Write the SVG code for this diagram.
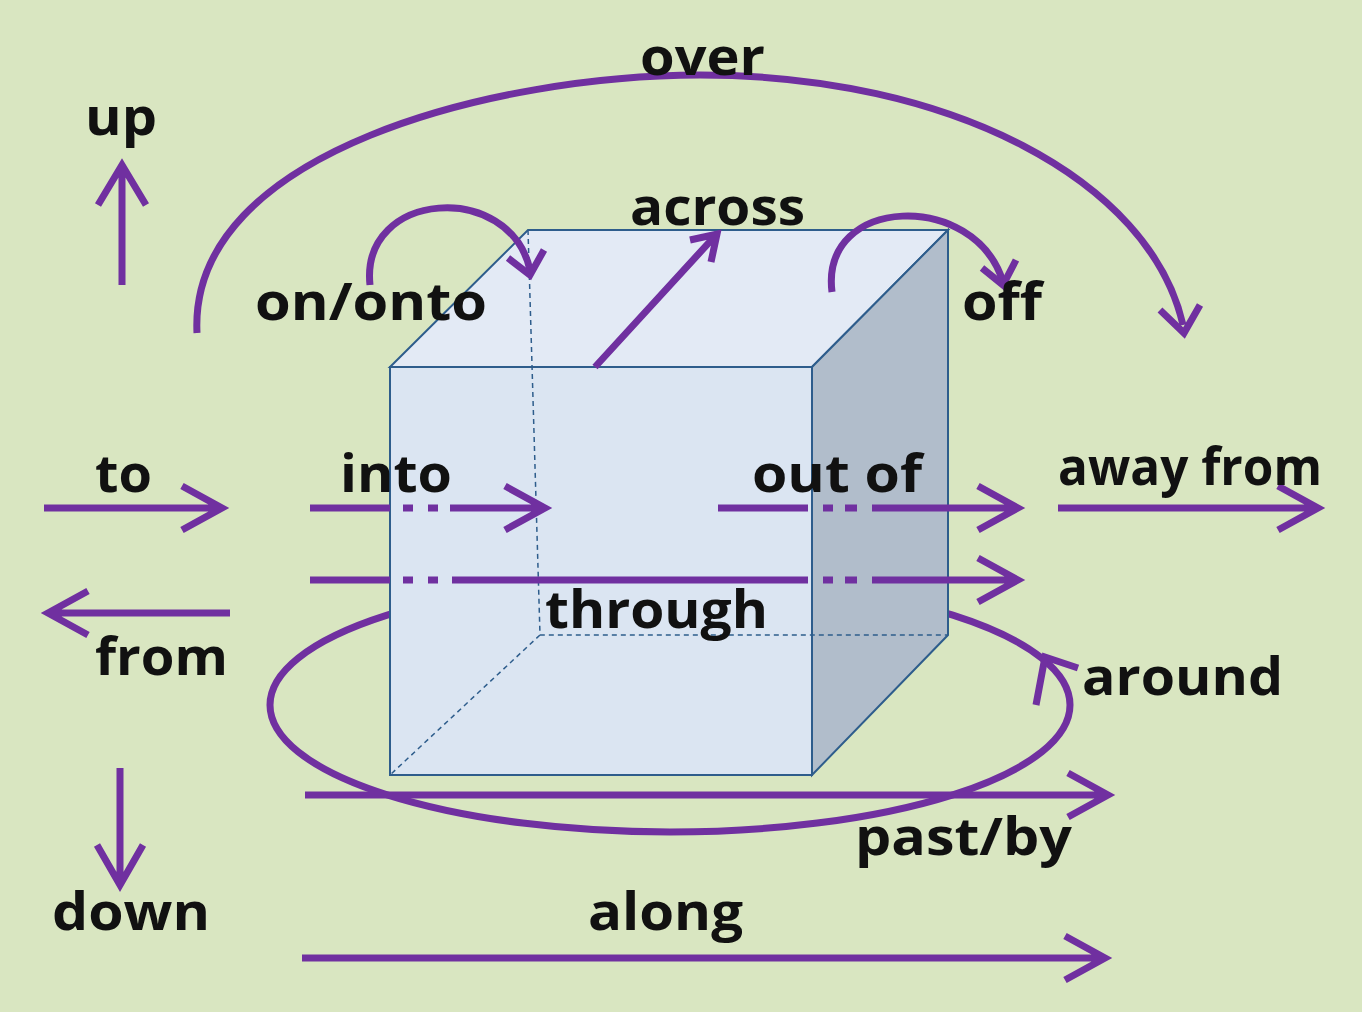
<svg xmlns="http://www.w3.org/2000/svg" width="1362" height="1012" viewBox="0 0 1362 1012">
<style>
.a{fill:none;stroke:#7030a0;stroke-width:7;stroke-linecap:butt;stroke-linejoin:miter}
.t{font-family:"Open Sans","Liberation Sans",sans-serif;font-weight:bold;font-size:52px;fill:#111}
.e{stroke:#2e5d8c;stroke-width:2}
.d{fill:none;stroke:#2e5d8c;stroke-width:1.5;stroke-dasharray:5,4}
</style>
<rect width="1362" height="1012" fill="#d9e6c1"/>
<g id="around-ring"><ellipse cx="670" cy="705" rx="400" ry="127" class="a"/></g>
<g id="cube">
<polygon points="390,367 528,230 948,230 812,367" style="fill:#e3eaf5" class="e"/>
<polygon points="812,367 948,230 948,635 812,775" style="fill:#b1bdcb" class="e"/>
<rect x="390" y="367" width="422" height="408" style="fill:#dbe5f2" class="e"/>
<path class="d" d="M528,230 L540,635 L948,635 M540,635 L390,775"/>
</g>
<g id="connectors">
<path class="a" d="M122,285 V165 M98,205 L122,165 L146,205"/>
<path class="a" d="M120,768 V885 M97,845 L120,885 L143,845"/>
<path class="a" d="M44,508 H222 M182,486 L222,508 L182,530"/>
<path class="a" d="M230,613 H48 M88,591 L48,613 L88,635"/>
<path class="a" d="M310,508 H390 M403,508 H413 M428,508 H438 M450,508 H542 M505,486 L545,508 L505,530"/>
<path class="a" d="M718,508 H808 M823,508 H833 M845,508 H857 M872,508 H1015 M978,486 L1018,508 L978,530"/>
<path class="a" d="M1058,508 H1315 M1278,486 L1318,508 L1278,530"/>
<path class="a" d="M310,580 H390 M403,580 H413 M428,580 H438 M452,580 H808 M823,580 H833 M845,580 H857 M872,580 H1015 M978,558 L1018,580 L978,602"/>
<path class="a" d="M305,795 H1105 M1068,773 L1108,795 L1068,817"/>
<path class="a" d="M302,958 H1102 M1065,936 L1105,958 L1065,980"/>
<path class="a" d="M595,367 L715,236 M690,240 L717,234 L711,262"/>
<path class="a" d="M197,333 C188,150 500,75 700,75 C950,75 1150,180 1183,325"/>
<path d="M1160,310 L1184,333 L1200,305" class="a"/>
<path class="a" d="M370,285 C360,190 510,180 530,270"/>
<path class="a" d="M508,258 L530,275 L544,250"/>
<path class="a" d="M832,292 C820,195 975,190 1003,282"/>
<path class="a" d="M982,268 L1003,285 L1016,260"/>
<path class="a" d="M1036,705 L1045,657 L1078,668"/>
</g>
<g id="labels">
<text class="t" x="640" y="75" textLength="125" lengthAdjust="spacingAndGlyphs">over</text>
<text class="t" x="85" y="135" textLength="72" lengthAdjust="spacingAndGlyphs">up</text>
<text class="t" x="630" y="225" textLength="175" lengthAdjust="spacingAndGlyphs">across</text>
<text class="t" x="255" y="320" textLength="232" lengthAdjust="spacingAndGlyphs">on/onto</text>
<text class="t" x="962" y="320" textLength="80" lengthAdjust="spacingAndGlyphs">off</text>
<text class="t" x="95" y="492" textLength="57" lengthAdjust="spacingAndGlyphs">to</text>
<text class="t" x="340" y="492" textLength="112" lengthAdjust="spacingAndGlyphs">into</text>
<text class="t" x="752" y="492" textLength="170" lengthAdjust="spacingAndGlyphs">out of</text>
<text class="t" x="1058" y="485" font-size="46" textLength="264" lengthAdjust="spacingAndGlyphs">away from</text>
<text class="t" x="545" y="628" textLength="223" lengthAdjust="spacingAndGlyphs">through</text>
<text class="t" x="95" y="675" textLength="133" lengthAdjust="spacingAndGlyphs">from</text>
<text class="t" x="1082" y="695" textLength="201" lengthAdjust="spacingAndGlyphs">around</text>
<text class="t" x="855" y="855" textLength="217" lengthAdjust="spacingAndGlyphs">past/by</text>
<text class="t" x="52" y="930" textLength="158" lengthAdjust="spacingAndGlyphs">down</text>
<text class="t" x="588" y="930" textLength="155" lengthAdjust="spacingAndGlyphs">along</text>
</g>
</svg>
